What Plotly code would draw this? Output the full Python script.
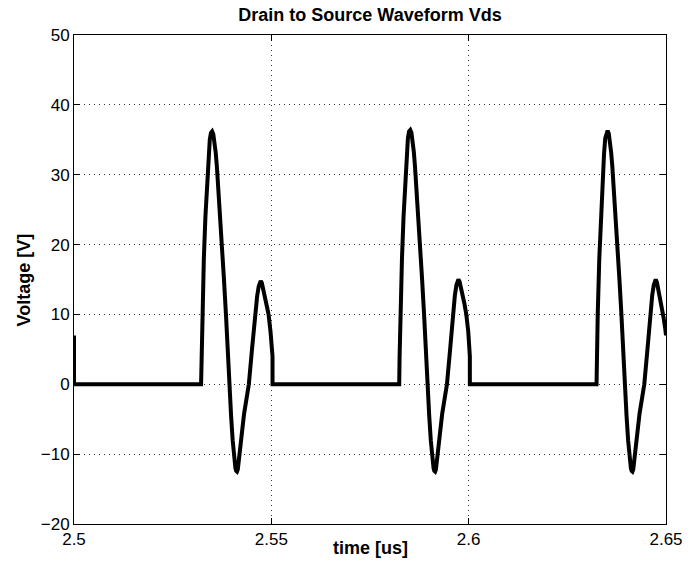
import plotly.graph_objects as go

# ---- data (time in us, voltage in V) ----
edge_t = [2.5000, 2.5000]
edge_v = [7.0, 0.0]

pulse1_t = [2.5000, 2.5322, 2.5323, 2.5325, 2.5329, 2.5333, 2.5337, 2.5341, 2.5344, 2.5347,
            2.5350, 2.5353, 2.5356, 2.5359, 2.5362, 2.5365, 2.5370, 2.5375, 2.5380, 2.5385,
            2.5389, 2.5393, 2.5398, 2.5402, 2.5406, 2.5409, 2.5411, 2.5413, 2.5415, 2.5417,
            2.5420, 2.5425, 2.5431, 2.5437, 2.5443, 2.5451, 2.5458, 2.5464, 2.5468, 2.5471,
            2.5473, 2.5476, 2.5479, 2.5483, 2.5488, 2.5493, 2.5498, 2.5503, 2.5503]
pulse1_v = [0.0, 0.0, 4.0, 10.0, 18.0, 24.0, 29.0, 33.0, 35.0, 36.0,
            36.2, 35.8, 34.8, 33.2, 31.2, 28.8, 24.5, 20.0, 15.0, 10.0,
            5.0, 0.5, -4.5, -8.0, -10.8, -12.0, -12.4, -12.5, -12.2, -11.4,
            -9.8, -7.2, -4.2, -2.0, 0.0, 5.0, 10.0, 12.6, 14.0, 14.6,
            14.8, 14.5, 13.8, 12.8, 11.6, 10.0, 7.5, 4.0, 0.0]

pulse2_t = [2.5824, 2.5825, 2.5827, 2.5831, 2.5835, 2.5839, 2.5843, 2.5846, 2.5849,
            2.5852, 2.5855, 2.5858, 2.5861, 2.5864, 2.5867, 2.5872, 2.5877, 2.5882, 2.5887,
            2.5891, 2.5895, 2.5900, 2.5904, 2.5908, 2.5911, 2.5913, 2.5915, 2.5917, 2.5919,
            2.5922, 2.5927, 2.5933, 2.5939, 2.5945, 2.5953, 2.5960, 2.5965, 2.5969, 2.5972,
            2.5974, 2.5977, 2.5980, 2.5984, 2.5989, 2.5994, 2.5999, 2.6003, 2.6003]
pulse2_v = [0.0, 4.0, 10.0, 18.0, 24.0, 29.0, 33.0, 35.2, 36.2,
            36.4, 36.0, 34.9, 33.3, 31.2, 28.8, 24.5, 20.0, 15.0, 10.0,
            5.0, 0.5, -4.5, -8.0, -10.8, -12.0, -12.4, -12.5, -12.2, -11.4,
            -9.8, -7.2, -4.2, -2.0, 0.0, 5.0, 10.0, 12.7, 14.2, 14.8,
            15.0, 14.7, 14.0, 12.9, 11.6, 10.0, 7.5, 4.0, 0.0]

pulse3_t = [2.6324, 2.6325, 2.6327, 2.6331, 2.6335, 2.6339, 2.6343, 2.6346, 2.6349,
            2.6352, 2.6355, 2.6358, 2.6361, 2.6364, 2.6367, 2.6372, 2.6377, 2.6382, 2.6387,
            2.6391, 2.6395, 2.6400, 2.6404, 2.6408, 2.6411, 2.6413, 2.6415, 2.6417, 2.6419,
            2.6422, 2.6427, 2.6433, 2.6439, 2.6445, 2.6453, 2.6460, 2.6465, 2.6469, 2.6472,
            2.6474, 2.6477, 2.6480, 2.6484, 2.6489, 2.6494, 2.6498, 2.6500]
pulse3_v = [0.0, 4.0, 10.0, 18.0, 24.0, 29.0, 33.0, 35.2, 36.1,
            36.3, 35.9, 34.8, 33.2, 31.2, 28.8, 24.5, 20.0, 15.0, 10.0,
            5.0, 0.5, -4.5, -8.0, -10.8, -12.0, -12.4, -12.5, -12.2, -11.4,
            -9.8, -7.2, -4.2, -2.0, 0.0, 5.0, 10.0, 12.7, 14.2, 14.8,
            15.0, 14.6, 13.8, 12.6, 11.0, 9.5, 8.0, 7.0]

x_ticks = [2.5, 2.55, 2.6, 2.65]
x_ticktext = ["2.5", "2.55", "2.6", "2.65"]
y_ticks = [-20, -10, 0, 10, 20, 30, 40, 50]

t_all = edge_t + pulse1_t + pulse2_t + pulse3_t
v_all = edge_v + pulse1_v + pulse2_v + pulse3_v

FONT = "Liberation Sans, Arial, Helvetica, sans-serif"

fig = go.Figure()
fig.add_trace(go.Scatter(
    x=t_all, y=v_all, mode="lines",
    line=dict(color="black", width=4),
    showlegend=False, hoverinfo="skip",
))

axis_common = dict(
    showline=True, linecolor="black", linewidth=1, mirror="ticks",
    ticks="inside", ticklen=6, tickwidth=1, tickcolor="black",
    showgrid=True, gridcolor="#333333", gridwidth=1, griddash="1px,4px",
    zeroline=False,
    tickfont=dict(family=FONT, size=17, color="black"),
)

fig.update_layout(
    width=695, height=571,
    margin=dict(l=74, r=18, t=35, b=47),
    paper_bgcolor="white", plot_bgcolor="white",
    font=dict(family=FONT, color="black"),
    title=dict(text="<b>Drain to Source Waveform Vds</b>",
               x=0.5, xref="paper", xanchor="center",
               y=1 - 15 / 571, yref="container", yanchor="middle",
               font=dict(family=FONT, size=18, color="black")),
    xaxis=dict(range=[2.5, 2.65], tickvals=x_ticks, ticktext=x_ticktext, **axis_common),
    yaxis=dict(range=[-20, 50], tickvals=y_ticks, **axis_common),
    annotations=[
        dict(text="<b>time [us]</b>", xref="paper", yref="paper",
             x=0.5, y=-24 / 489, xanchor="center", yanchor="middle",
             showarrow=False, font=dict(family=FONT, size=18, color="black")),
        dict(text="<b>Voltage [V]</b>", xref="paper", yref="paper",
             x=-(74 - 23) / 603, y=0.5, xanchor="center", yanchor="middle",
             textangle=-90, showarrow=False,
             font=dict(family=FONT, size=18, color="black")),
    ],
)

fig.write_html("out.html")
